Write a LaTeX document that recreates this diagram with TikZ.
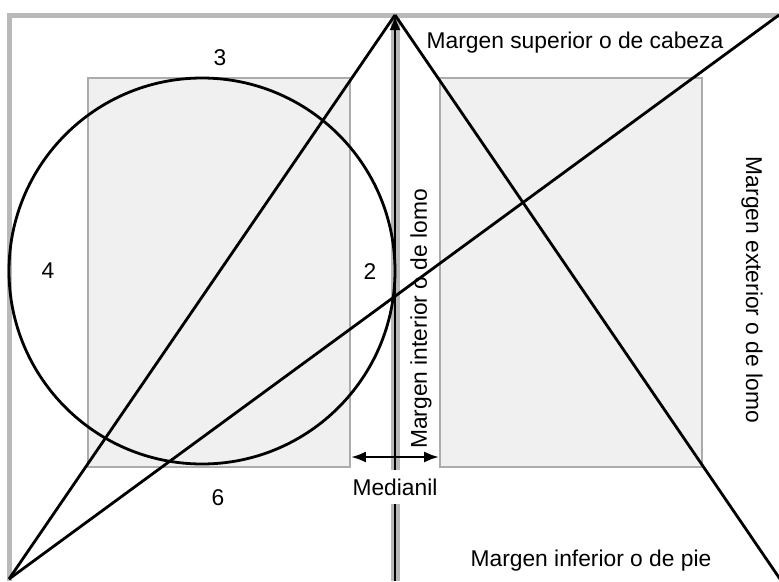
\documentclass[tikz,border=0pt]{standalone}
\usepackage{fontspec}
\setmainfont{Liberation Sans}
\usetikzlibrary{arrows.meta}

\begin{document}
\begin{tikzpicture}[x=1pt, y=-1pt, >={Latex[length=15pt,width=11pt]},
    pageedge/.style={line width=5pt, gray!55},
    textblock/.style={fill=gray!12, draw=gray!65, line width=1.6pt, minimum width=262pt, minimum height=389pt},
    guide/.style={line width=2.8pt, black},
    lbl/.style={font=\fontsize{22.8}{26}\selectfont, inner sep=0pt}]
    \useasboundingbox (0,0) rectangle (779,581);
    \coordinate (BL) at (9,579);
    \coordinate (ST) at (395,15);
    \coordinate (SB) at (395,581);
    \coordinate (TR) at (779,15);
    \coordinate (BR) at (780,579);
    \coordinate (M) at (395,457);
    \draw[pageedge] (9,581) -- (9,15) -- (TR);
    \draw[pageedge, line width=9pt] (SB) -- (ST);
    \node[textblock] (lblock) at (219,272.5) {};
    \node[textblock] (rblock) at (571,272.5) {};
    \draw[guide] (202,271) circle[radius=193pt];
    \draw[guide] (BL) -- (ST);
    \draw[guide] (BL) -- (TR);
    \draw[guide] (ST) -- (BR);
    \draw[guide, ->] (SB) -- (ST);
    \draw[guide, ->] (M) -- (M -| lblock.east);
    \draw[guide, ->] (M) -- (M -| rblock.west);
    \node[lbl] at (220,58) {3};
    \node[lbl] at (48,271) {4};
    \node[lbl] at (370,272) {2};
    \node[lbl] at (218,498) {6};
    \node[lbl, fill=white, inner xsep=3pt, inner ysep=9pt] (med) at (395,487) {Medianil};
    \node[lbl, rotate=90] at (421,319) {Margen interior o de lomo};
    \node[lbl, rotate=-90] at (752,290) {Margen exterior o de lomo};
    \node[lbl] at (575,43) {Margen superior o de cabeza};
    \node[lbl] at (591,561) {Margen inferior o de pie};
\end{tikzpicture}
\end{document}
